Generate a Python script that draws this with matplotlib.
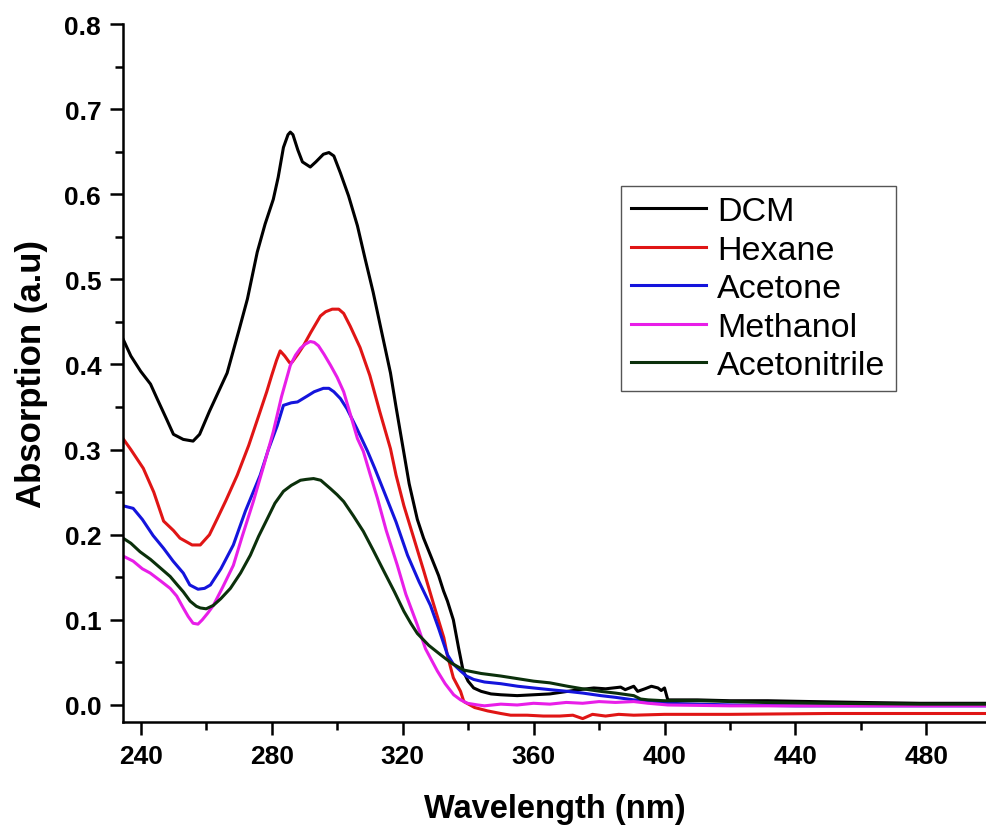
import matplotlib
matplotlib.use("Agg")
import matplotlib.pyplot as plt
from matplotlib.ticker import MultipleLocator, FormatStrFormatter

plt.rcParams['font.family'] = ['Liberation Sans', 'DejaVu Sans']

# ---------------- data ----------------
dcm_x = [234.6, 237, 240, 243, 245, 248, 250, 253, 256, 258, 261, 264, 266.4, 270, 272.6, 275.6, 278,
         280.5, 282, 283.6, 285, 285.7, 286.5, 288, 289.4, 291.8, 293.5, 295.8, 297.5, 299, 301, 303.5,
         306.2, 308.5, 311, 313.5, 316.3, 318, 320, 322, 324.5, 326.4, 328.5, 331, 332.5, 333.7, 335.5,
         337.1, 338.5, 340, 341.7, 344, 347, 350, 355, 360, 365, 370.4, 374, 378.4, 382, 386.6, 388,
         390.6, 391.8, 394, 396, 398, 399, 400, 401, 410, 420, 431.5, 445, 460, 478, 498.5]
dcm_y = [0.430, 0.410, 0.392, 0.377, 0.360, 0.335, 0.318, 0.312, 0.310, 0.318, 0.345, 0.370, 0.390, 0.440,
         0.477, 0.532, 0.565, 0.594, 0.620, 0.655, 0.670, 0.673, 0.670, 0.652, 0.638, 0.632, 0.638, 0.647,
         0.649, 0.645, 0.625, 0.598, 0.563, 0.525, 0.485, 0.440, 0.390, 0.350, 0.305, 0.260, 0.218, 0.196,
         0.176, 0.152, 0.134, 0.122, 0.100, 0.067, 0.040, 0.028, 0.020, 0.016, 0.013, 0.012, 0.011, 0.012,
         0.013, 0.016, 0.018, 0.020, 0.019, 0.021, 0.018, 0.022, 0.016, 0.019, 0.022, 0.020, 0.017, 0.020,
         0.006, 0.006, 0.005, 0.005, 0.004, 0.003, 0.002, 0.002]

hex_x = [234.6, 237, 240.8, 244, 247, 250, 252, 255.7, 258.2, 261, 263.4, 266, 269.5, 273, 276.5, 278.5,
         280, 281.5, 282.6, 284, 285.5, 286.3, 288, 289.7, 292, 294.9, 296.5, 298.5, 300.5, 302, 304, 307,
         310, 313, 316.3, 318, 320.4, 323.5, 326.5, 329.5, 332.6, 333.7, 335.5, 337.7, 338.7, 342, 346, 350,
         353, 358, 363, 368, 372, 375, 378, 382, 386, 390.6, 400, 420, 450, 478, 498.5]
hex_y = [0.313, 0.300, 0.278, 0.250, 0.216, 0.205, 0.196, 0.188, 0.188, 0.200, 0.219, 0.240, 0.270, 0.305,
         0.345, 0.368, 0.387, 0.405, 0.416, 0.410, 0.402, 0.403, 0.412, 0.422, 0.438, 0.457, 0.462, 0.465,
         0.465, 0.460, 0.445, 0.420, 0.387, 0.345, 0.301, 0.270, 0.234, 0.195, 0.157, 0.118, 0.079, 0.058,
         0.032, 0.016, 0.004, -0.003, -0.007, -0.010, -0.012, -0.012, -0.013, -0.013, -0.012, -0.016,
         -0.011, -0.013, -0.011, -0.012, -0.011, -0.011, -0.010, -0.010, -0.010]

ace_x = [234.6, 237.7, 240.5, 243.8, 247, 249.9, 253, 255, 257.5, 259.5, 261.3, 264.5, 268.3, 272,
         276.5, 279, 281.7, 283.6, 286, 287.9, 290.9, 293, 295.8, 297.5, 299, 301, 303, 306, 309.3,
         311.5, 314.3, 318, 321.5, 325, 328.5, 331, 333.7, 335.5, 337.7, 339.5, 341.7, 345, 350, 355.2,
         360, 365, 370.4, 375, 380.5, 385, 390.6, 395, 401, 410, 421, 440, 460, 478, 498.5]
ace_y = [0.234, 0.231, 0.218, 0.199, 0.184, 0.169, 0.155, 0.141, 0.136, 0.137, 0.141, 0.160, 0.188, 0.228,
         0.270, 0.300, 0.328, 0.352, 0.355, 0.356, 0.363, 0.368, 0.372, 0.372, 0.368, 0.360, 0.348, 0.325,
         0.298, 0.278, 0.251, 0.215, 0.176, 0.145, 0.117, 0.090, 0.059, 0.048, 0.040, 0.034, 0.030, 0.027,
         0.025, 0.022, 0.020, 0.018, 0.016, 0.014, 0.011, 0.009, 0.006, 0.005, 0.002, 0.001, 0.000, -0.001,
         -0.001, -0.001, -0.001]

met_x = [234.6, 237.7, 240.5, 242.9, 246, 249, 251, 253, 254.5, 256, 257.5, 258.8, 260.5, 262.2, 265,
         268.3, 271, 274.4, 277.5, 280.5, 283, 285.7, 287.3, 288.8, 290.3, 291.8, 293, 294.3, 296, 298,
         300, 302, 304, 306.2, 308, 310, 312.3, 315, 318.4, 321, 324.5, 327, 330.6, 333, 335.6, 337.7,
         339.8, 343, 345, 350, 355, 360, 365, 370, 375, 380, 385, 390.6, 395, 401, 420, 450, 478, 498.5]
met_y = [0.175, 0.169, 0.160, 0.155, 0.146, 0.137, 0.128, 0.114, 0.104, 0.096, 0.095, 0.100, 0.108, 0.117,
         0.138, 0.164, 0.198, 0.239, 0.280, 0.321, 0.362, 0.399, 0.411, 0.419, 0.424, 0.427, 0.426, 0.422,
         0.412, 0.399, 0.385, 0.368, 0.342, 0.313, 0.298, 0.272, 0.243, 0.205, 0.164, 0.130, 0.094, 0.066,
         0.040, 0.025, 0.012, 0.006, 0.002, 0.000, -0.001, 0.001, 0.000, 0.002, 0.001, 0.003, 0.002, 0.004,
         0.003, 0.004, 0.002, 0.000, -0.001, -0.001, -0.001, -0.001]

acn_x = [234.6, 237, 239.8, 243, 246, 249, 251.2, 253, 255.1, 257, 258.2, 260, 262.2, 264.5, 267.4, 270.5,
         273.5, 276, 278.7, 281, 283.6, 286, 288.8, 290.5, 292.8, 295, 298, 300, 302, 305, 308, 311,
         314.3, 317.5, 320.4, 322.5, 324.5, 328, 331.6, 335, 338.7, 344, 350, 355, 360, 365, 370.4, 375,
         380.5, 385, 390.6, 392.7, 395, 400, 411, 430, 450, 478, 498.5]
acn_y = [0.196, 0.190, 0.180, 0.171, 0.161, 0.151, 0.141, 0.133, 0.122, 0.116, 0.114, 0.113, 0.117, 0.125,
         0.137, 0.155, 0.176, 0.198, 0.219, 0.237, 0.251, 0.258, 0.264, 0.265, 0.266, 0.264, 0.254, 0.247,
         0.239, 0.222, 0.204, 0.182, 0.157, 0.133, 0.110, 0.096, 0.084, 0.070, 0.059, 0.049, 0.041, 0.037,
         0.034, 0.031, 0.028, 0.026, 0.022, 0.019, 0.016, 0.014, 0.011, 0.007, 0.006, 0.005, 0.005, 0.003,
         0.002, 0.001, 0.001]

series_names = ['DCM', 'Hexane', 'Acetone', 'Methanol', 'Acetonitrile']
series_x = [dcm_x, hex_x, ace_x, met_x, acn_x]
series_y = [dcm_y, hex_y, ace_y, met_y, acn_y]
colors = ['#000000', '#e01515', '#1414dc', '#e81ee8', '#0b300b']

x_ticks = [240, 280, 320, 360, 400, 440, 480]
y_ticks = [0.0, 0.1, 0.2, 0.3, 0.4, 0.5, 0.6, 0.7, 0.8]

# ---------------- figure ----------------
fig = plt.figure(figsize=(9.87, 8.28), dpi=100)
ax = fig.add_axes([0.1243, 0.1268, 0.8757, 0.843])

for xs, ys, c, name in zip(series_x, series_y, colors, series_names):
    ax.plot(xs, ys, color=c, lw=2.2, label=name, solid_joinstyle='round')

ax.set_xlim(234.5, 498.5)
ax.set_ylim(-0.02, 0.8)
ax.set_xticks(x_ticks)
ax.set_yticks(y_ticks)
ax.xaxis.set_minor_locator(MultipleLocator(20))
ax.yaxis.set_minor_locator(MultipleLocator(0.05))
ax.yaxis.set_major_formatter(FormatStrFormatter('%.1f'))

for s in ['top', 'right']:
    ax.spines[s].set_visible(False)
for s in ['left', 'bottom']:
    ax.spines[s].set_linewidth(1.8)

ax.tick_params(which='major', direction='out', length=9.5, width=1.8, labelsize=19, pad=6)
ax.tick_params(which='minor', direction='out', length=5.5, width=1.8)
for lbl in ax.get_xticklabels() + ax.get_yticklabels():
    lbl.set_fontweight('bold')

ax.set_xlabel('Wavelength (nm)', fontsize=23.5, fontweight='bold', labelpad=18)
ax.set_ylabel('Absorption (a.u)', fontsize=25, fontweight='bold', labelpad=12)

leg = ax.legend(loc='upper left', bbox_to_anchor=(620.7 / 987, 1 - 187 / 828),
                bbox_transform=fig.transFigure, borderaxespad=0, fontsize=24.5,
                handlelength=2.2, handletextpad=0.33, labelspacing=0.22,
                borderpad=0.3, fancybox=False, framealpha=1)
leg.get_frame().set_edgecolor('#555555')
leg.get_frame().set_linewidth(1.0)
for l in leg.get_lines():
    l.set_linewidth(2.2)

fig.savefig('out.png', dpi=100)
